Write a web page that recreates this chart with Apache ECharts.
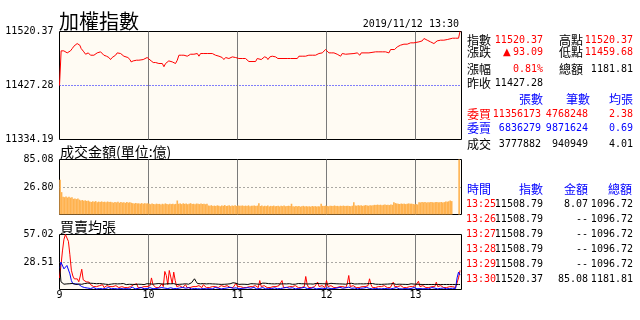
<!DOCTYPE html>
<html><head><meta charset="utf-8">
<script src="https://cdn.jsdelivr.net/npm/echarts@6/dist/echarts.min.js"></script>
<style>html,body{margin:0;padding:0;background:#fff}#c{width:640px;height:320px}</style>
</head><body><div id="c"></div>
<script>
// ---- axis ticks ----
const hourTicks = ['9', '10', '11', '12', '13'];
const idxTicks = [11334.19, 11427.28, 11520.37];
const amtTicks = [0, 26.80, 85.08];
const avgTicks = [0, 28.51, 57.02];

// ---- index line (minutes after 9:00, value) ----
const idxMin = [
0, 1.1, 2.9, 4.1, 5.2, 6.3, 7.4, 8.6, 9.7, 10.8,
11.9, 13.1, 13.7, 14.6, 15.5, 16.4, 17.6, 18.7, 19.4, 20.2,
20.9, 22.1, 23.2, 24.3, 25.4, 26.5, 27.7, 28.8, 29.9, 31.7,
33.3, 34.4, 35.5, 36.7, 37.8, 38.9, 40.0, 41.2, 42.3, 43.4,
44.5, 46.1, 47.5, 48.3, 49.7, 50.6, 52.0, 53.5, 54.6, 56.4,
57.3, 59.1, 60.3, 61.8, 63.2, 64.8, 65.9, 67.0, 68.1, 69.3,
70.4, 71.5, 72.6, 73.7, 74.9, 76.0, 77.1, 78.2, 79.4, 80.5,
82.1, 83.9, 85.0, 86.1, 87.2, 88.4, 90.6, 91.7, 92.9, 94.0,
95.1, 97.3, 99.6, 103.0, 104.1, 105.2, 106.3, 107.5, 108.6, 109.7,
110.8, 112.0, 113.1, 114.2, 115.3, 116.5, 118.7, 120.9, 122.1, 123.2,
124.3, 125.4, 126.6, 127.7, 132.2, 133.3, 134.4, 136.0, 137.3, 138.2,
139.6, 140.5, 141.8, 143.4, 144.5, 145.7, 147.2, 153.5, 154.7, 155.8,
160.3, 161.4, 163.6, 164.8, 165.9, 167.0, 168.1, 169.3, 170.4, 171.5,
172.6, 173.8, 174.9, 176.0, 177.1, 178.3, 179.4, 180.5, 181.6, 183.2,
183.9, 185.0, 186.1, 187.2, 188.4, 189.5, 190.6, 191.7, 192.9, 194.0,
198.5, 199.6, 200.7, 201.8, 202.5, 203.4, 208.6, 209.2, 213.1, 214.2,
215.3, 216.4, 217.6, 218.7, 219.8, 220.9, 222.1, 223.2, 225.9, 226.5,
227.7, 228.8, 229.9, 231.0, 232.2, 233.3, 234.4, 235.5, 236.7, 237.8,
238.9, 240.0, 242.3, 243.4, 244.5, 245.7, 246.8, 247.9, 249.0, 250.1,
251.3, 252.4, 253.5, 254.6, 255.8, 256.9, 258.0, 259.1, 260.3, 261.4,
262.5, 265, 266, 267, 268, 269, 270];
const idxVal = [
11427.28, 11487.0, 11487.0, 11485.2, 11483.5, 11482.4, 11487.0, 11491.0, 11495.0, 11495.0,
11499.6, 11498.5, 11496.7, 11491.0, 11488.1, 11485.3, 11481.2, 11479.5, 11483.5, 11481.2,
11479.5, 11477.8, 11479.5, 11482.4, 11483.5, 11483.5, 11485.3, 11482.4, 11479.5, 11477.8,
11475.5, 11472.0, 11475.5, 11476.6, 11479.5, 11483.5, 11481.2, 11482.4, 11479.5, 11477.8,
11476.6, 11475.5, 11472.0, 11468.0, 11469.7, 11468.0, 11470.9, 11470.9, 11472.0, 11472.0,
11473.8, 11475.5, 11473.8, 11469.7, 11466.9, 11466.9, 11464.0, 11465.2, 11464.0, 11465.2,
11459.68, 11465.2, 11465.2, 11469.7, 11470.9, 11468.0, 11468.0, 11465.2, 11470.9, 11479.5,
11479.5, 11479.5, 11481.2, 11477.8, 11479.5, 11481.2, 11481.2, 11479.5, 11482.4, 11477.8,
11482.4, 11482.4, 11482.4, 11482.4, 11481.2, 11479.5, 11476.6, 11477.8, 11476.6, 11475.5,
11472.0, 11475.5, 11477.8, 11473.8, 11475.5, 11476.6, 11475.5, 11473.8, 11472.0, 11473.8,
11470.9, 11473.8, 11470.9, 11468.6, 11468.6, 11473.8, 11475.5, 11472.0, 11473.8, 11476.6,
11475.5, 11472.0, 11476.6, 11477.8, 11477.8, 11476.6, 11473.8, 11473.8, 11475.5, 11473.8,
11473.8, 11477.8, 11477.8, 11479.5, 11477.8, 11475.5, 11479.5, 11481.2, 11479.5, 11481.2,
11479.5, 11476.6, 11482.4, 11481.2, 11483.5, 11485.3, 11489.3, 11488.1, 11483.5, 11483.5,
11482.4, 11483.5, 11483.5, 11481.2, 11479.5, 11477.8, 11482.4, 11483.5, 11481.2, 11482.4,
11482.4, 11483.5, 11483.5, 11482.4, 11479.5, 11483.5, 11483.5, 11485.3, 11485.3, 11482.4,
11485.3, 11487.0, 11485.3, 11487.0, 11485.3, 11487.0, 11483.5, 11489.3, 11489.3, 11491.0,
11493.9, 11495.0, 11496.8, 11496.8, 11498.5, 11499.6, 11498.5, 11500.8, 11500.8, 11499.6,
11500.8, 11501.9, 11502.5, 11502.5, 11504.2, 11508.3, 11506.5, 11505.4, 11504.2, 11502.5,
11500.8, 11499.6, 11502.5, 11504.2, 11502.5, 11505.4, 11504.2, 11505.4, 11502.5, 11506.5,
11508.79, 11508.79, 11508.79, 11508.79, 11508.79, 11508.79, 11520.37];

// ---- turnover per minute (億), minutes 1..270 ----
const amtVal = [
39.5, 19, 13, 12.4, 13.2, 12, 12.8, 11.8, 12.4, 10.5,
11, 10.2, 10.8, 9.6, 8.7, 9.2, 8.4, 8.9, 8.2, 8.6,
7.7, 7.2, 7.9, 7.4, 8.1, 7, 7.6, 7.3, 7.8, 7.1,
7.5, 6.9, 7.7, 7.2, 7.4, 7, 6.6, 7.2, 6.8, 7.4,
6.5, 7.1, 6.7, 6.9, 6.4, 7.3, 6.6, 7, 6.5, 6.1,
5.8, 6.3, 5.9, 6, 5.6, 6.2, 5.7, 6.1, 5.8, 6,
5.6, 5.2, 5.8, 5.4, 5.1, 5.7, 5.3, 5.5, 5, 5.6,
5.2, 5.9, 5.4, 5.1, 5.6, 5.3, 5.7, 5.2, 5.5, 8.7,
5.6, 5.9, 5.3, 6, 5.5, 5.8, 5.2, 5.7, 6.1, 5.4,
5.6, 5.1, 5.8, 5.5, 5.3, 5.9, 5.4, 5.7, 5.2, 5.5,
4.2, 3.9, 4.4, 3.8, 4.1, 3.7, 4.3, 4, 3.6, 4.2,
3.9, 4.5, 3.8, 4, 4.3, 3.7, 4.1, 3.9, 4.4, 3.8,
4.2, 4, 3.9, 4.2, 3.7, 4.1, 3.8, 4.3, 3.6, 4,
3.9, 4.2, 3.8, 4.1, 6.1, 3.8, 4.1, 3.6, 4, 3.7,
4.2, 3.5, 3.9, 3.7, 4.1, 3.6, 3.8, 4, 3.5, 3.9,
3.7, 4.2, 3.6, 3.8, 4, 3.7, 5.6, 3.6, 3.4, 3.8,
3.5, 3.7, 3.3, 3.6, 3.9, 3.4, 3.7, 3.5, 3.6, 3.3,
3.8, 3.5, 3.7, 3.4, 3.6, 3.5, 5.6, 3.9, 3.7, 4.1,
3.8, 3.6, 4, 3.9, 3.7, 4.2, 3.8, 3.9, 3.6, 4,
3.8, 4.1, 3.7, 3.9, 4, 3.8, 3.6, 4, 7, 4.2,
4, 4.4, 4.1, 4.3, 3.9, 4.2, 4.5, 4.1, 4, 4.3,
4.2, 4.4, 4.7, 4.5, 4.9, 4.6, 4.8, 4.4, 4.7, 5,
4.6, 4.8, 4.5, 4.9, 4.7, 7, 6.2, 5.8, 5.6, 5.4,
5.8, 5.5, 5.7, 5.3, 5.6, 5.9, 5.5, 5.7, 5.4, 5.1,
5.3, 5, 7, 6.8, 7.2, 6.9, 7.1, 6.7, 7, 6.9,
7.2, 7, 6.8, 7.1, 7.3, 6.9, 7, 7.2, 6.8, 7.1,
7.7, 7.5, 7.9, 8.7, 8.07, null, null, null, null, 85.08];

// ---- average lot sizes, minutes 0..270 ----
const bidAvg = [
12, 25, 40, 52, 57.02, 57, 50, 36, 20, 14,
11, 9, 11, 8, 14, 21, 10, 10, 8, 6,
7.6, 5, 4, 3, 5, 3, 2, 4, 3, 5,
2, 3, 4, 2, 3, 5, 3, 2, 4, 3,
2, 4, 3, 5, 2, 3, 2, 4, 3, 2,
5, 3, 6, 2, 3, 2, 4, 3, 2, 3,
2, 4, 12, 5, 3, 2, 3, 2, 4, 6,
3, 18.7, 14.5, 5, 19.7, 13, 6, 18, 9.3, 3,
2, 4, 3, 2, 3, 5, 2, 3, 2, 4,
3, 2, 3, 2, 4, 3, 2, 5, 3, 2,
3, 2, 4, 3, 2, 3, 5, 2, 3, 4,
2, 3, 2, 4, 3, 2, 3, 2, 4, 6.6,
3, 2, 3, 4, 2, 3, 2, 4, 3, 2,
3, 2, 4, 3, 2, 9.3, 3, 2, 4, 3,
2, 3, 2, 4, 3, 2, 3, 2, 4, 3,
9.3, 2, 3, 2, 4, 3, 2, 3, 2, 4,
3, 2, 3, 2, 4, 3, 13.5, 5, 2, 3,
2, 4, 3, 2, 7.6, 3, 2, 4, 3, 2,
9.3, 3, 2, 4, 3, 2, 3, 2, 4, 3,
2, 3, 4, 2, 6, 14.5, 3, 2, 4, 3,
2, 3, 2, 4, 3, 2, 3, 2, 4, 11.1,
5, 2, 3, 2, 4, 3, 2, 3, 2, 4,
3, 2, 3, 2, 4, 7.6, 3, 2, 3, 2,
4, 3, 2, 3, 2, 4, 3, 2, 3, 2,
4, 3, 8.6, 3, 2, 4, 3, 2, 3, 2,
4, 3, 2, 3, 7.6, 3, 2, 4, 3, 2,
3, 2, 4, 3, 2, 3, 2, 2, 3, 12,
19.7];
const askAvg = [
22, 28.3, 26.6, 21.4, 20.4, 24.9, 23.9, 16.2, 9.3, 5.9,
6.6, 5.9, 7.6, 5.2, 6.6, 3, 4, 2, 3, 1.5,
2, 1, 0.8, 2, 1.2, 0.6, 1.8, 1, 2.4, 0.7,
1.5, 1, 0.5, 2, 1.2, 0.8, 1.6, 1, 2.2, 0.6,
1.4, 1, 2, 0.7, 1.5, 0.9, 1.8, 0.6, 1.2, 2.5,
1, 0.7, 1.6, 1.1, 0.5, 2, 1.3, 0.8, 1.7, 1,
0.6, 1.9, 1.2, 0.8, 2.3, 1, 0.7, 1.5, 1.1, 2,
0.8, 1.4, 2.6, 1, 0.7, 1.8, 1.2, 0.9, 2.1, 1,
0.6, 1.5, 1, 2.2, 0.8, 1.3, 0.7, 1.9, 1.1, 0.6,
1.7, 1, 2.4, 0.8, 1.2, 0.6, 1.6, 1, 2, 0.7,
1.3, 0.9, 1.8, 0.6, 1.2, 2.1, 0.8, 1.4, 1, 0.6,
1.9, 1.1, 0.7, 1.6, 1, 2.3, 0.8, 1.3, 0.6, 1.7,
1, 0.7, 2, 1.2, 0.8, 1.5, 0.6, 1.9, 1, 1.3,
0.7, 2.2, 1, 0.6, 1.6, 1.1, 0.8, 2, 1.3, 0.7,
1.5, 0.9, 2.4, 1, 0.6, 1.7, 1.2, 0.8, 2, 1,
0.7, 1.6, 1, 2.2, 0.8, 1.3, 0.6, 1.8, 1.1, 0.7,
2, 1, 0.8, 1.5, 0.6, 2.3, 1.2, 0.9, 1.6, 1,
0.7, 1.9, 1.1, 0.6, 2.1, 1, 0.8, 1.4, 2.5, 1,
0.6, 1.7, 1.2, 0.8, 2, 1, 0.7, 1.5, 1.1, 2.2,
0.8, 1.3, 0.6, 1.8, 1, 2.4, 0.7, 1.2, 0.9, 1.6,
1, 0.6, 2, 1.3, 0.8, 1.5, 1, 2.2, 0.7, 1.1,
1.8, 0.6, 1.3, 1, 2.1, 0.8, 1.2, 0.7, 1.6, 1,
2.3, 0.9, 1.4, 0.6, 1.8, 1.1, 0.7, 2, 1, 0.8,
1.5, 0.6, 2.2, 1, 1.3, 0.7, 1.7, 1, 0.6, 2,
1.2, 0.8, 1.6, 1, 2.4, 0.7, 1.3, 0.9, 1.8, 0.6,
1.1, 2, 0.8, 1.4, 1, 0.6, 1.7, 1.2, 0.8, 1.5,
1, 0.7, 1.9, 1.1, 0.8, 1.3, 1, 1, 12, 18,
15];
const dealAvg = [
27, 8, 6, 5.5, 6.2, 5.8, 5, 6, 5.5, 6.3,
5.6, 5.2, 6, 5.7, 6.5, 5.4, 6.6, 6.2, 5.9, 6.6,
6.1, 6.5, 5.8, 6.3, 5.6, 6, 5.5, 6.2, 5.3, 5.9,
6.4, 5.5, 5.9, 5.2, 6.1, 5.6, 5.3, 6, 5.5, 5.8,
5.2, 5.9, 5.4, 6.2, 5.6, 5.1, 5.8, 5.4, 6, 5.3,
5.7, 5.2, 5.9, 5.5, 6.3, 5.4, 5.8, 5.1, 5.6, 6,
5.4, 5.8, 6.5, 5.5, 5.2, 5.9, 5.6, 6.2, 5.3, 5.7,
6.4, 5.6, 5.2, 6, 5.5, 5.9, 5.3, 6.1, 5.6, 5.2,
5.8, 5.4, 6, 5.6, 5.2, 5.9, 6.3, 5.5, 5.8, 7,
9, 11.1, 8.5, 6.2, 5.4, 5.9, 5.6, 6.1, 5.3, 5.8,
5.5, 6, 5.4, 5.8, 5.2, 5.7, 6.1, 5.5, 5.9, 5.3,
5.8, 5.4, 6, 5.6, 5.2, 5.9, 6.4, 7, 7.6, 6.5,
5.7, 5.3, 5.9, 5.5, 6.1, 5.4, 5.8, 5.2, 5.6, 6,
5.5, 5.9, 5.3, 5.7, 6, 5.4, 6.2, 6.6, 6.9, 6.5,
6.8, 6.1, 5.6, 5.9, 5.3, 5.8, 5.5, 6, 5.4, 5.7,
5.2, 5.9, 5.5, 5.8, 5.3, 6, 5.6, 5.4, 5.9, 5.5,
5.8, 6.2, 5.6, 6, 6.4, 5.9, 6.3, 5.7, 6.1, 5.8,
6.2, 5.6, 6, 6.3, 5.8, 6.1, 5.5, 6, 6.3, 5.9,
6.2, 5.7, 6, 6.4, 5.8, 6.1, 5.6, 5.9, 5.4, 5.8,
5.3, 5.7, 6.2, 5.5, 5.9, 6.3, 6, 6.4, 6.1, 5.7,
6.2, 5.8, 5.5, 5.9, 5.3, 5.8, 5.4, 6, 6.5, 6.1,
6.6, 6.2, 5.8, 5.5, 5.9, 5.4, 5.8, 5.3, 5.7, 5.5,
6, 5.6, 5.3, 5.8, 5.4, 6.1, 5.7, 5.3, 5.9, 5.5,
5.8, 5.4, 5.9, 5.3, 5.6, 5.2, 5.5, 5.9, 5.4, 5.6,
6, 5.5, 5.8, 5.3, 5.2, 5.2, 5.2, 5.2, 5.2, 5.2,
5.2, 5.2, 5.2, 5.2, 5.2, 5.2, 5.2, 5.2, 5.2, 5.2,
5.2, 5.2, 5.2, 5.2, 5.2, 5.2, 5.2, 5.2, 5.2, 5.2,
5.2];

// ---- quote panel texts ----
const quoteLeft = [['指數', '11520.37'], ['漲跌', '93.09'], ['漲幅', '0.81%'], ['昨收', '11427.28']];
const quoteRight = [['高點', '11520.37'], ['低點', '11459.68'], ['總額', '1181.81']];
const bookHead = ['張數', '筆數', '均張'];
const bookRows = [['委買', '11356173', '4768248', '2.38'], ['委賣', '6836279', '9871624', '0.69'], ['成交', '3777882', '940949', '4.01']];
const tickHead = ['時間', '指數', '金額', '總額'];
const tickRows = [
  ['13:25', '11508.79', '8.07', '1096.72'],
  ['13:26', '11508.79', '--', '1096.72'],
  ['13:27', '11508.79', '--', '1096.72'],
  ['13:28', '11508.79', '--', '1096.72'],
  ['13:29', '11508.79', '--', '1096.72'],
  ['13:30', '11520.37', '85.08', '1181.81']];

// ---- build ----
const RED = '#ff0000', BLUE = '#0000ff', BLK = '#000000';
const NUMF = '10px "DejaVu Sans Mono"';
const CJK = '12px "Noto Sans CJK TC"';
const idxStep = idxTicks[1] - idxTicks[0];
const amtP = 0.6, amtNorm = Math.pow(amtTicks[1], amtP);

const idxData = [];
for (let i = 0; i < Math.min(idxMin.length, idxVal.length); i++) idxData.push([idxMin[i], (idxVal[i] - idxTicks[0]) / idxStep]);
const amtData = [];
amtVal.forEach((v, i) => { if (v != null) amtData.push([i + 1 - 0.6, Math.pow(v, amtP) / amtNorm]); });
const toAvg = arr => arr.map((v, i) => [i, v / avgTicks[1]]);

const L = 59.5, W = 402;
const grids = [
  {left: L, top: 31.5, width: W, height: 108},
  {left: L, top: 159.5, width: W, height: 55},
  {left: L, top: 234.5, width: W, height: 55}
].map(g => Object.assign(g, {show: true, backgroundColor: '#fffbf3', borderColor: '#000', borderWidth: 1, containLabel: false}));

function xAx(gi, lab) {
  return {type: 'value', gridIndex: gi, min: 0, max: 271, interval: 60,
    axisLine: {show: false}, axisTick: {show: false},
    axisLabel: {show: lab, margin: 1, color: '#000', fontFamily: 'DejaVu Sans Mono', fontSize: 10,
      formatter: v => (v % 60 === 0 && v / 60 < hourTicks.length) ? hourTicks[v / 60] : ''},
    splitLine: {show: true, showMinLine: false, showMaxLine: false, lineStyle: {color: '#7a7a7a', width: 1}}};
}
function yAx(gi, labels, showMin, splitColor, dash) {
  return {type: 'value', gridIndex: gi, min: 0, max: 2, interval: 1,
    axisLine: {show: false}, axisTick: {show: false},
    axisLabel: {margin: 6, color: '#000', fontFamily: 'DejaVu Sans Mono', fontSize: 10,
      formatter: v => { const k = Math.round(v); if (k === 0 && !showMin) return ''; return labels[k].toFixed(2); }},
    splitLine: {show: true, showMinLine: false, showMaxLine: false, lineStyle: {color: splitColor, width: 1, type: dash}}};
}

const g = [];
function T(x, y, text, fill, font, align) {
  g.push({type: 'text', x: x, y: y, z: 100, style: {text: text, fill: fill, font: font, align: align || 'left', verticalAlign: 'middle', textAlign: align || 'left', textVerticalAlign: 'middle'}});
}
T(59, 21, '加權指數', BLK, '20px "Noto Sans CJK TC"');
T(459, 24, '2019/11/12 13:30', BLK, NUMF, 'right');
T(60, 152, '成交金額(單位:億)', BLK, '14px "Noto Sans CJK TC"');
T(60, 227, '買賣均張', BLK, '14px "Noto Sans CJK TC"');

const qy = [40, 52, 69, 83.5];
quoteLeft.forEach((q, i) => {
  T(467, qy[i], q[0], BLK, CJK);
  const col = i === 3 ? BLK : RED;
  T(543, qy[i], q[1], col, NUMF, 'right');
});
T(503, qy[1], '▲', RED, '10px "DejaVu Sans"');
quoteRight.forEach((q, i) => {
  T(559, qy[i], q[0], BLK, CJK);
  T(633, qy[i], q[1], i === 2 ? BLK : RED, NUMF, 'right');
});
[519, 566, 609].forEach((x, i) => T(x, 99.5, bookHead[i], BLUE, CJK));
const by = [114, 128.5, 144], bc = [RED, BLUE, BLK];
bookRows.forEach((r, i) => {
  T(467, by[i], r[0], bc[i], CJK);
  T(541, by[i], r[1], bc[i], NUMF, 'right');
  T(588, by[i], r[2], bc[i], NUMF, 'right');
  T(633, by[i], r[3], bc[i], NUMF, 'right');
});
[467, 519, 564, 608].forEach((x, i) => T(x, 189.5, tickHead[i], BLUE, CJK));
tickRows.forEach((r, i) => {
  const y = 204.3 + i * 14.95;
  T(466, y, r[0], RED, NUMF);
  T(543, y, r[1], BLK, NUMF, 'right');
  T(588, y, r[2], BLK, NUMF, 'right');
  T(633, y, r[3], BLK, NUMF, 'right');
});

const chart = echarts.init(document.getElementById('c'), null, {renderer: 'canvas'});
chart.setOption({
  animation: false,
  backgroundColor: '#ffffff',
  grid: grids,
  xAxis: [xAx(0, false), xAx(1, false), xAx(2, true)],
  yAxis: [yAx(0, idxTicks, true, BLUE, [1, 2]), yAx(1, amtTicks, false, '#555', [1, 3]), yAx(2, avgTicks, false, '#555', [1, 3])],
  series: [
    {type: 'line', xAxisIndex: 0, yAxisIndex: 0, data: idxData, showSymbol: false, symbol: 'none', lineStyle: {color: RED, width: 1}, z: 5},
    {type: 'bar', xAxisIndex: 1, yAxisIndex: 1, data: amtData, barWidth: 1.6, itemStyle: {color: '#ffb24f'}, z: 5},
    {type: 'line', xAxisIndex: 2, yAxisIndex: 2, data: toAvg(bidAvg), symbol: 'none', lineStyle: {color: RED, width: 1}, z: 5},
    {type: 'line', xAxisIndex: 2, yAxisIndex: 2, data: toAvg(askAvg), symbol: 'none', lineStyle: {color: BLUE, width: 1}, z: 6},
    {type: 'line', xAxisIndex: 2, yAxisIndex: 2, data: toAvg(dealAvg), symbol: 'none', lineStyle: {color: BLK, width: 1}, z: 7}
  ],
  graphic: g
});
</script>
</body></html>
